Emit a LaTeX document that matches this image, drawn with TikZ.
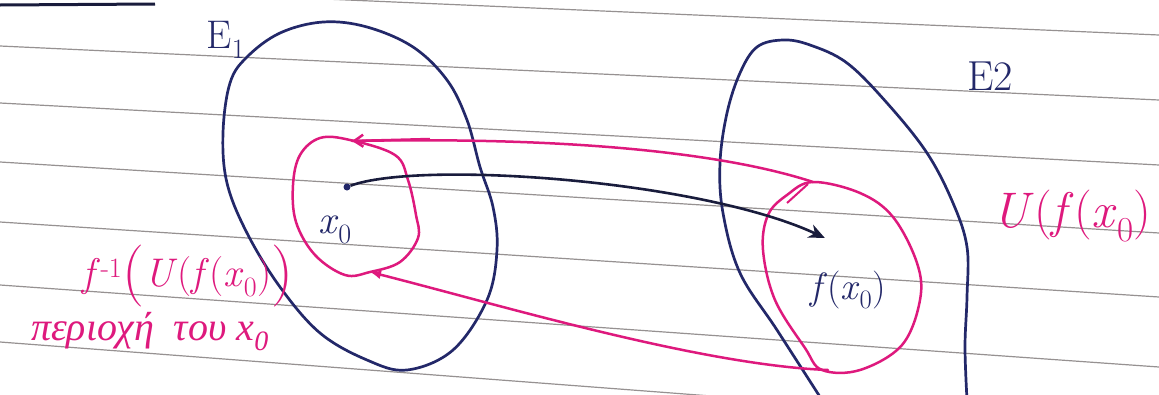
\documentclass[tikz,border=0pt]{standalone}
\usepackage{fontspec}
\newfontfamily\grk{Liberation Serif}
\usetikzlibrary{arrows.meta}
\definecolor{navy}{RGB}{35,40,105}
\definecolor{mag}{RGB}{222,25,125}
\definecolor{ink}{RGB}{25,28,60}
\definecolor{rule}{RGB}{150,145,145}
\newcommand{\vx}{\textit{x}\textsubscript{0}}
\newcommand{\bigpar}[1]{{\fontsize{62}{62}\selectfont\raisebox{-5pt}{#1}}}
\begin{document}
\begin{tikzpicture}[x=1pt,y=-1pt,
  setline/.style={draw=navy,line width=2.7pt,line join=round,line cap=round},
  nbhd/.style={draw=mag,line width=2.5pt,line join=round,line cap=round},
  ruled/.style={draw=rule,line width=1.2pt},
  navytext/.style={text=navy,inner sep=0pt},
  magtext/.style={text=mag,inner sep=0pt},
  dotnode/.style={circle,fill=navy,inner sep=0pt,minimum size=7pt},
  pt/.style={inner sep=0pt,minimum size=0pt},
]
\useasboundingbox (0,0) rectangle (1159,394);
\clip (0,0) rectangle (1159,394);
\fill[white] (0,0) rectangle (1159,394);
% ruled paper
\draw[ruled] (0,-15) -- (1159,35);
\draw[ruled] (0,46) -- (1159,100);
\draw[ruled] (0,103) -- (1159,165);
\draw[ruled] (0,162) -- (1159,233);
\draw[ruled] (0,222) -- (1159,297);
\draw[ruled] (0,285) -- (1159,367);
\draw[ruled] (0,342) -- (1159,430);
\draw[draw=ink,line width=3pt] (0,5) -- (155,4);
% E1
\draw[setline] plot[smooth cycle,tension=0.6] coordinates {
 (247,57) (280,33) (323,22) (367,27) (413,47) (447,80) (467,120) (480,167)
 (493,207) (497,250) (487,300) (453,350) (407,370) (367,360) (320,333)
 (280,287) (247,233) (227,183) (223,133) (230,83)};
% E2 (open at bottom)
\draw[setline] plot[smooth,tension=0.6] coordinates {
 (822,400) (777,330) (740,273) (723,213) (720,163) (727,113) (740,73) (757,47)
 (783,40) (810,45) (847,63) (887,103) (927,153) (953,203) (967,247) (967,297)
 (965,347) (967,400)};
% inner neighbourhood of x0
\draw[nbhd] plot[smooth cycle,tension=0.6] coordinates {
 (320,138) (350,140) (395,155) (408,180) (416,215) (418,238) (400,262)
 (370,272) (345,275) (315,255) (296,222) (293,185) (300,155)};
% neighbourhood U of f(x0)
\draw[nbhd] plot[smooth cycle,tension=0.6] coordinates {
 (813,182) (860,193) (893,217) (917,263) (920,300) (902,345) (860,370)
 (822,370) (805,348) (775,300) (763,250) (768,215) (787,195)};
% anchor points
\coordinate (inTop) at (352,141);
\coordinate (inBot) at (370,272);
\coordinate (uTop) at (813,182);
\coordinate (uBot) at (828,370);
\draw[nbhd] (uTop) .. controls (740,158) and (600,136) .. (inTop);
\draw[draw=mag,line width=2.5pt,-{Straight Barb[length=9pt,width=12pt]}] (430,139) -- (inTop);
\draw[draw=mag,line width=2pt] (787,203) -- (808,184);
\draw[nbhd,{Latex[length=11pt,width=9pt]}-] (inBot) .. controls (500,305) and (700,365) .. (uBot);
% points and mapping arrow
\node[dotnode] (x0dot) at (347,187) {};
\node[pt] (fxdot) at (825,238) {};
\draw[draw=ink,line width=2.6pt,-{Stealth[length=16pt,width=14pt,inset=5pt]}]
  (x0dot) .. controls (420,160) and (700,180) .. (fxdot);
% labels
\node[navytext] (E1) at (226,40) {\fontsize{40}{44}\selectfont E\textsubscript{1}};
\node[navytext] (E2) at (990,76) {\fontsize{42}{46}\selectfont E2};
\node[navytext] (x0) at (335,230) {\fontsize{40}{44}\selectfont\vx};
\node[navytext] (fx0) at (848,290) {\fontsize{38}{42}\selectfont\textit{f}(\vx)};
\node[magtext] (U) at (1072,216) {\fontsize{50}{54}\selectfont\textit{U}(\textit{f}(\vx)};
\node[magtext] (pre) at (188,276) {\fontsize{40}{44}\selectfont\textit{f}\textsuperscript{-1}\bigpar{(}\textit{U}(\textit{f}(\vx)\bigpar{)}};
\node[magtext] (nb) at (150,332) {\fontsize{40}{44}\selectfont\grk\itshape περιοχή \ του \vx};
\end{tikzpicture}
\end{document}
